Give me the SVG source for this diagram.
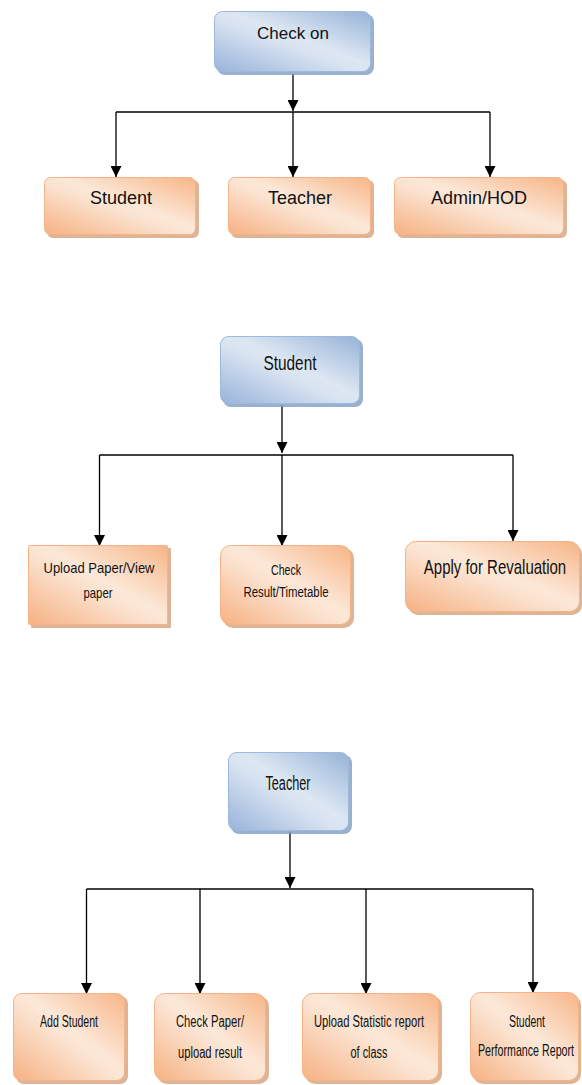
<svg xmlns="http://www.w3.org/2000/svg" width="582" height="1085" viewBox="0 0 582 1085">
<defs>
<linearGradient id="gOrange" x1="0" y1="1" x2="1" y2="0">
<stop offset="0" stop-color="#f6b182"/>
<stop offset="0.45" stop-color="#fbe2cf"/>
<stop offset="0.55" stop-color="#fce8d8"/>
<stop offset="1" stop-color="#f7b587"/>
</linearGradient>
<linearGradient id="gBlue" x1="0" y1="1" x2="1" y2="0">
<stop offset="0" stop-color="#98b3da"/>
<stop offset="0.45" stop-color="#d8e3f1"/>
<stop offset="0.55" stop-color="#dde7f2"/>
<stop offset="1" stop-color="#96b3d8"/>
</linearGradient>
<marker id="arr" markerUnits="userSpaceOnUse" markerWidth="11" markerHeight="11" refX="11" refY="5.5" orient="auto">
<path d="M0,0 L11,5.5 L0,11 z" fill="#000"/>
</marker>
<style>
.o{fill:url(#gOrange);stroke:#f4b487;stroke-width:1}
.os{fill:#d39b73;opacity:0.75}
.b{fill:url(#gBlue);stroke:#9fb9dc;stroke-width:1}
.bs{fill:#7f9cc3;opacity:0.8}
.t{font-family:"Liberation Sans",Arial,sans-serif;fill:#111;text-anchor:middle}
.c{stroke:#000;stroke-width:1.3;fill:none}
.a{marker-end:url(#arr)}
</style>
</defs>

<g id="connectors">
<line class="c a" x1="293" y1="74" x2="293" y2="111"/>
<line class="c" x1="116" y1="112" x2="490" y2="112"/>
<line class="c a" x1="116" y1="112" x2="116" y2="177"/>
<line class="c a" x1="293" y1="112" x2="293" y2="177"/>
<line class="c a" x1="490" y1="112" x2="490" y2="177"/>

<line class="c a" x1="282" y1="405" x2="282" y2="453"/>
<line class="c" x1="99.5" y1="455" x2="513" y2="455"/>
<line class="c a" x1="99.5" y1="455" x2="99.5" y2="546"/>
<line class="c a" x1="282" y1="455" x2="282" y2="546"/>
<line class="c a" x1="513" y1="455" x2="513" y2="541"/>

<line class="c a" x1="290" y1="832" x2="290" y2="888"/>
<line class="c" x1="86.5" y1="889" x2="533" y2="889"/>
<line class="c a" x1="86.5" y1="889" x2="86.5" y2="994"/>
<line class="c a" x1="200" y1="889" x2="200" y2="994"/>
<line class="c a" x1="366" y1="889" x2="366" y2="994"/>
<line class="c a" x1="533" y1="889" x2="533" y2="993"/>
</g>

<g id="checkon">
<rect class="bs" x="217" y="14" width="157" height="61" rx="8"/>
<rect class="b" x="214.5" y="11.5" width="156" height="60" rx="8"/>
<text class="t" x="293" y="39" font-size="17">Check on</text>
</g>
<g id="student1">
<rect class="os" x="47" y="180" width="152" height="58" rx="6"/>
<rect class="o" x="44.5" y="177.5" width="151" height="57" rx="6"/>
<text class="t" x="121" y="204" font-size="18">Student</text>
</g>
<g id="teacher1">
<rect class="os" x="231" y="180" width="143" height="58" rx="6"/>
<rect class="o" x="228.5" y="177.5" width="142" height="57" rx="6"/>
<text class="t" x="300" y="204" font-size="18">Teacher</text>
</g>
<g id="admin">
<rect class="os" x="397" y="180" width="170" height="58" rx="6"/>
<rect class="o" x="394.5" y="177.5" width="169" height="57" rx="6"/>
<text class="t" x="479" y="204" font-size="18">Admin/HOD</text>
</g>

<g id="student2">
<rect class="bs" x="223" y="339" width="140" height="68" rx="8"/>
<rect class="b" x="220.5" y="336.5" width="139" height="67" rx="8"/>
<text class="t" x="290" y="370" font-size="21" textLength="53" lengthAdjust="spacingAndGlyphs">Student</text>
</g>
<g id="upload">
<rect class="os" x="31" y="548" width="140" height="80" rx="1"/>
<rect class="o" x="28.5" y="545.5" width="139" height="79" rx="1"/>
<text class="t" x="99" y="573" font-size="15" textLength="111" lengthAdjust="spacingAndGlyphs">Upload Paper/View</text>
<text class="t" x="98" y="598" font-size="15" textLength="29" lengthAdjust="spacingAndGlyphs">paper</text>
</g>
<g id="checkresult">
<rect class="os" x="223" y="548" width="131" height="80" rx="10"/>
<rect class="o" x="220.5" y="545.5" width="130" height="79" rx="10"/>
<text class="t" x="286" y="575" font-size="14" textLength="30" lengthAdjust="spacingAndGlyphs">Check</text>
<text class="t" x="286" y="597" font-size="14" textLength="85" lengthAdjust="spacingAndGlyphs">Result/Timetable</text>
</g>
<g id="revaluation">
<rect class="os" x="408" y="544" width="174" height="71" rx="10"/>
<rect class="o" x="405.5" y="541.5" width="174" height="70" rx="10"/>
<text class="t" transform="translate(495,574) scale(1,1.33)" x="0" y="0" font-size="15">Apply for Revaluation</text>
</g>

<g id="teacher2">
<rect class="bs" x="231" y="755" width="121" height="79" rx="8"/>
<rect class="b" x="228.5" y="752.5" width="120" height="78" rx="8"/>
<text class="t" x="288" y="790" font-size="20" textLength="45" lengthAdjust="spacingAndGlyphs">Teacher</text>
</g>
<g id="addstudent">
<rect class="os" x="16" y="996" width="112" height="88" rx="8"/>
<rect class="o" x="13.5" y="993.5" width="111" height="87" rx="8"/>
<text class="t" x="69" y="1027" font-size="16" textLength="58" lengthAdjust="spacingAndGlyphs">Add Student</text>
</g>
<g id="checkpaper">
<rect class="os" x="157" y="996" width="112" height="88" rx="10"/>
<rect class="o" x="154.5" y="993.5" width="111" height="87" rx="10"/>
<text class="t" x="210" y="1027" font-size="16" textLength="68" lengthAdjust="spacingAndGlyphs">Check Paper/</text>
<text class="t" x="210" y="1058" font-size="16" textLength="64" lengthAdjust="spacingAndGlyphs">upload result</text>
</g>
<g id="statistic">
<rect class="os" x="305" y="996" width="137" height="88" rx="10"/>
<rect class="o" x="302.5" y="993.5" width="136" height="87" rx="10"/>
<text class="t" x="369" y="1027" font-size="16" textLength="110" lengthAdjust="spacingAndGlyphs">Upload Statistic report</text>
<text class="t" x="369" y="1058" font-size="16" textLength="37" lengthAdjust="spacingAndGlyphs">of class</text>
</g>
<g id="performance">
<rect class="os" x="473" y="995" width="108" height="89" rx="10"/>
<rect class="o" x="470.5" y="992.5" width="108" height="88" rx="10"/>
<text class="t" x="527" y="1027" font-size="16" textLength="36" lengthAdjust="spacingAndGlyphs">Student</text>
<text class="t" transform="translate(526,1056) scale(0.89,1.33)" x="0" y="0" font-size="12">Performance Report</text>
</g>
</svg>
